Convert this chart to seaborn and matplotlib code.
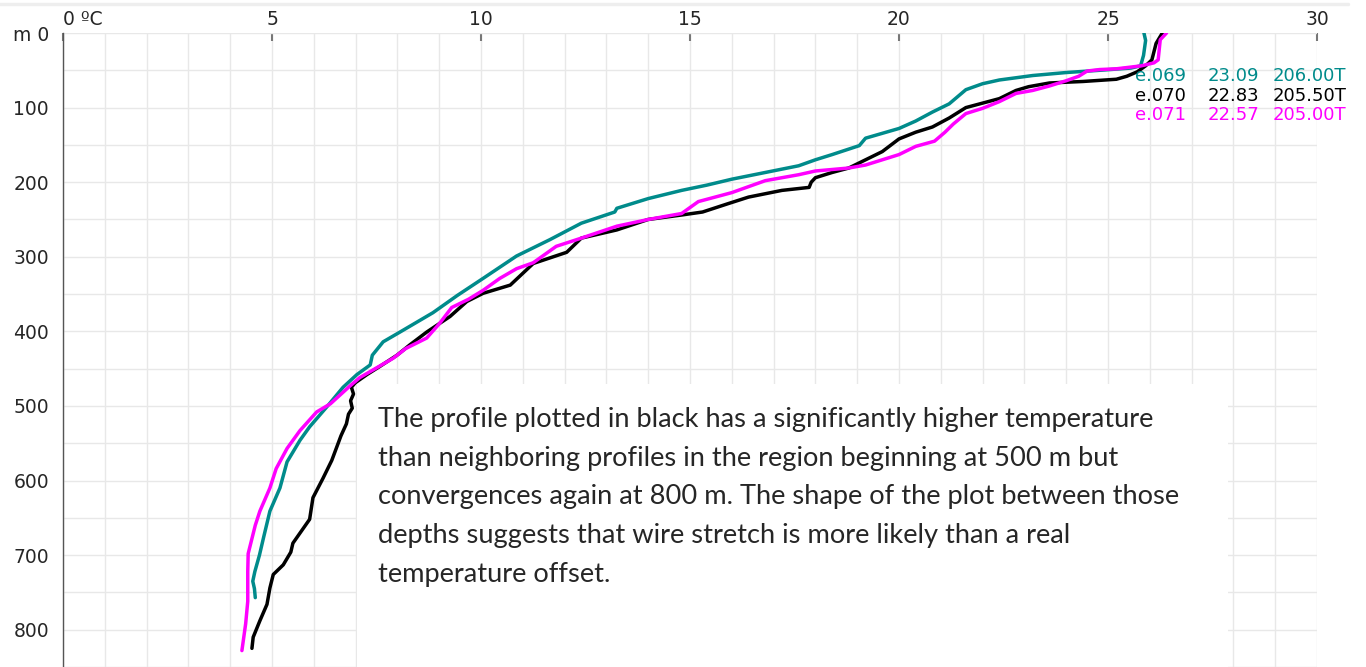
import numpy as np
import pandas as pd
import matplotlib
matplotlib.use("Agg")
import matplotlib.pyplot as plt
import seaborn as sns
from matplotlib.patches import Rectangle
from matplotlib.lines import Line2D
from matplotlib.transforms import Bbox

# profile e.069 (teal)
depth_069 = [0, 10, 30, 44, 47, 50, 53, 57, 63, 68, 76, 95, 106, 118, 128, 141, 151, 163, 170,
             178, 187, 196, 204, 211, 222, 235, 240, 255, 277, 299, 329, 352, 375, 401, 414, 432,
             445, 458, 475, 502, 528, 546, 575, 610, 641, 676, 700, 722, 735, 745, 757]
temp_069 = [25.86, 25.9, 25.85, 25.78, 25.55, 24.8, 24.0, 23.2, 22.4, 22.0, 21.6, 21.2, 20.8, 20.4,
            20.0, 19.2, 19.05, 18.4, 18.0, 17.6, 16.8, 16.0, 15.4, 14.8, 14.0, 13.25, 13.2, 12.4,
            11.65, 10.85, 10.05, 9.43, 8.85, 8.06, 7.66, 7.4, 7.35, 7.03, 6.7, 6.3, 5.9, 5.67,
            5.36, 5.19, 4.95, 4.8, 4.7, 4.59, 4.54, 4.58, 4.6]

# profile e.070 (black)
depth_070 = [0, 14, 36, 44, 52, 58, 62, 65, 67, 72, 77, 88, 100, 114, 126, 133, 142, 159, 170, 181,
             187, 194, 200, 207, 211, 220, 229, 240, 244, 250, 264, 275, 294, 309, 338, 349, 360,
             380, 401, 418, 432, 447, 458, 469, 475, 484, 493, 503, 511, 524, 540, 555, 573, 597,
             623, 652, 684, 696, 713, 726, 744, 766, 788, 810, 825]
temp_070 = [26.3, 26.15, 26.05, 25.9, 25.7, 25.45, 25.2, 24.4, 23.6, 23.1, 22.8, 22.4, 21.6, 21.2,
            20.8, 20.4, 20.0, 19.6, 19.2, 18.8, 18.4, 18.0, 17.9, 17.85, 17.2, 16.4, 15.9, 15.3,
            14.8, 14.0, 13.25, 12.4, 12.05, 11.25, 10.7, 10.05, 9.66, 9.26, 8.7, 8.3, 7.99, 7.58,
            7.27, 6.99, 6.9, 6.95, 6.88, 6.92, 6.83, 6.78, 6.65, 6.55, 6.43, 6.22, 5.98, 5.9,
            5.5, 5.45, 5.27, 5.03, 4.95, 4.88, 4.71, 4.55, 4.52]

# profile e.071 (magenta)
depth_071 = [0, 9, 36, 40, 44, 46, 48, 49, 51, 58, 64, 71, 77, 81, 92, 101, 108, 122, 133, 145, 152,
             163, 170, 177, 181, 183, 185, 190, 198, 214, 226, 242, 250, 259, 275, 286, 308, 316,
             329, 345, 357, 368, 390, 409, 423, 436, 449, 462, 473, 497, 508, 533, 557, 584, 610,
             641, 660, 698, 722, 762, 792, 828]
temp_071 = [26.4, 26.25, 26.2, 26.1, 25.8, 25.5, 25.2, 24.8, 24.5, 24.3, 24.0, 23.6, 23.2, 22.8,
            22.4, 22.0, 21.6, 21.3, 21.1, 20.85, 20.4, 20.0, 19.6, 19.2, 18.8, 18.4, 18.0, 17.6,
            16.8, 16.0, 15.2, 14.8, 14.0, 13.25, 12.4, 11.8, 11.25, 10.85, 10.45, 10.05, 9.7, 9.3,
            9.0, 8.7, 8.2, 7.9, 7.5, 7.1, 6.87, 6.4, 6.07, 5.67, 5.36, 5.1, 4.95, 4.71, 4.6, 4.43,
            4.42, 4.42, 4.37, 4.28]

profiles = ["e.069", "e.070", "e.071"]
colors = ["#008b8b", "#000000", "#ff00ff"]
legend_rows = [["e.069", "23.09", "206.00T"],
               ["e.070", "22.83", "205.50T"],
               ["e.071", "22.57", "205.00T"]]

x_ticks = [0, 5, 10, 15, 20, 25, 30]
x_labels = ["0 ºC", "5", "10", "15", "20", "25", "30"]
y_ticks = [0, 100, 200, 300, 400, 500, 600, 700, 800]
y_labels = ["m 0", "100", "200", "300", "400", "500", "600", "700", "800"]

note_lines = [
    "The profile plotted in black has a significantly higher temperature",
    "than neighboring profiles in the region beginning at 500 m but",
    "convergences again at 800 m. The shape of the plot between those",
    "depths suggests that wire stretch is more likely than a real",
    "temperature offset.",
]

df = pd.concat([
    pd.DataFrame({"temp": temp_069, "depth": depth_069, "profile": "e.069"}),
    pd.DataFrame({"temp": temp_070, "depth": depth_070, "profile": "e.070"}),
    pd.DataFrame({"temp": temp_071, "depth": depth_071, "profile": "e.071"}),
])

sns.set_style("white")
plt.rcParams["font.family"] = ["DejaVu Sans"]

W, H = 1366, 667
fig = plt.figure(figsize=(W / 100, H / 100), dpi=100)
ax = fig.add_axes([63 / W, 0, (1317 - 63) / W, 1 - 33 / H])

sns.lineplot(data=df, x="temp", y="depth", hue="profile", palette=dict(zip(profiles, colors)),
             estimator=None, sort=False, orient="y", linewidth=2.5, legend=False, ax=ax, zorder=3)

ax.set_xlim(0, 30)
ax.set_ylim(837, 0)

# grid every 1 degC and every 50 m
ax.set_xticks(np.arange(0, 31, 1), minor=True)
ax.set_yticks(np.arange(0, 851, 50), minor=True)
ax.grid(which="minor", color="#e8e8e8", linewidth=1)
ax.grid(which="major", color="#e8e8e8", linewidth=1)
ax.set_axisbelow(True)

ax.xaxis.tick_top()
ax.set_xticks(x_ticks)
ax.set_xticklabels(x_labels, fontsize=13.5)
ax.get_xticklabels()[0].set_horizontalalignment("left")
ax.tick_params(axis="x", which="major", direction="in", length=6, width=1.5, color="#777777", pad=3)
ax.tick_params(axis="x", which="minor", length=0)

ax.set_yticks(y_ticks)
ax.set_yticklabels(y_labels, fontsize=13.5)
ax.tick_params(axis="y", which="both", direction="out", length=6, width=1, color="#555555", pad=4)

for s in ["top", "right", "bottom"]:
    ax.spines[s].set_visible(False)
ax.spines["left"].set_color("#555555")
ax.spines["left"].set_linewidth(1)
ax.set_xlabel("")
ax.set_ylabel("")

# white note box
ax.add_patch(Rectangle((7.03, 470), 27.87 - 7.03, 400, facecolor="white", edgecolor="none", zorder=1.5))
baselines = [427, 466, 504, 543, 582]
for line, py in zip(note_lines, baselines):
    fig.text(378 / W, 1 - py / H, line, fontsize=19.6, family="Lato", va="baseline", ha="left")

# profile legend at top right
clip = Bbox([[0, 0], [1348, H]])
col_x = [1135, 1208, 1273]
row_y = [76, 96, 115]
for row, color, py in zip(legend_rows, colors, row_y):
    for txt, px in zip(row, col_x):
        t = fig.text(px / W, 1 - py / H, txt, fontsize=13, color=color, va="center", ha="left")
        t.set_clip_box(clip)
        t.set_clip_on(True)

fig.add_artist(Line2D([0, 1348 / W], [1 - 3.5 / H, 1 - 3.5 / H], color="#eeeeee", linewidth=2.5))

fig.savefig("out.png", dpi=100)
